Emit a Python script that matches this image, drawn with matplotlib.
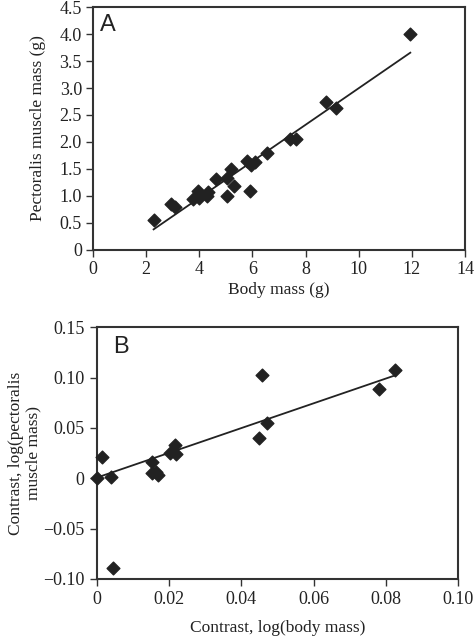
import numpy as np
import matplotlib
matplotlib.use("Agg")
import matplotlib.pyplot as plt

# 패널 A 데이터 (체질량 vs 가슴근육 질량)
body_mass = [2.28, 2.93, 3.09, 3.78, 3.96, 3.99, 4.31, 4.30, 4.64, 5.06, 5.05, 5.21,
             5.29, 5.78, 5.91, 5.94, 6.08, 6.56, 7.40, 7.65, 8.78, 9.13, 11.94]
pect_mass = [0.56, 0.85, 0.80, 0.94, 1.09, 0.96, 1.08, 0.99, 1.32, 1.34, 1.00, 1.49,
             1.18, 1.65, 1.09, 1.57, 1.63, 1.79, 2.06, 2.06, 2.75, 2.63, 4.01]
fit_a = (0.339, -0.393)   # 기울기, 절편

# 패널 B 데이터 (독립 대비)
contrast_body = [0.0, 0.0013, 0.0038, 0.0044, 0.0152, 0.0152, 0.0164, 0.0170,
                 0.0203, 0.0217, 0.0219, 0.0449, 0.0456, 0.0472, 0.0780, 0.0827]
contrast_pect = [0.0, 0.0212, 0.0013, -0.0887, 0.0162, 0.0053, 0.0063, 0.0033,
                 0.0255, 0.0331, 0.0238, 0.0401, 0.1023, 0.0550, 0.0884, 0.1073]
fit_b = (1.228, 0.0007)

plt.rcParams['font.family'] = ['Liberation Serif', 'DejaVu Serif']
spine_color = "#333333"
text_color = "#222222"

fig = plt.figure(figsize=(4.76, 6.44), dpi=100)
ax_a = fig.add_axes([0.1954, 0.612, 0.7816, 0.377])
ax_b = fig.add_axes([0.204, 0.101, 0.758, 0.391])


def style(ax, pad):
    for s in ax.spines.values():
        s.set_color(spine_color)
        s.set_linewidth(1.5)
    ax.tick_params(direction="out", length=5, width=1, color=spine_color,
                   labelsize=13, labelcolor=text_color, pad=pad)


# 패널 A
ax_a.scatter(body_mass, pect_mass, marker="D", s=42, color=text_color, zorder=3)
xa = np.array([min(body_mass), max(body_mass)])
ax_a.plot(xa, fit_a[0] * xa + fit_a[1], color=text_color, lw=1.3)
ax_a.set_xlim(0, 14)
ax_a.set_ylim(0, 4.5)
ax_a.set_xticks(np.arange(0, 15, 2))
ax_a.set_yticks(np.arange(0, 4.51, 0.5))
ax_a.set_yticklabels(["0"] + [f"{v:.1f}" for v in np.arange(0.5, 4.51, 0.5)])
ax_a.set_xlabel("Body mass (g)", fontsize=12.5, color=text_color, labelpad=3)
ax_a.set_ylabel("Pectoralis muscle mass (g)", fontsize=12.5, color=text_color, labelpad=10)
ax_a.text(0.02, 0.97, "A", transform=ax_a.transAxes, fontsize=17,
          family="Liberation Sans", va="top", ha="left", color=text_color)
style(ax_a, 3)

# 패널 B
ax_b.scatter(contrast_body, contrast_pect, marker="D", s=42, color=text_color, zorder=3,
             clip_on=False)
xb = np.array([min(contrast_body), max(contrast_body)])
ax_b.plot(xb, fit_b[0] * xb + fit_b[1], color=text_color, lw=1.3)
ax_b.set_xlim(0, 0.10)
ax_b.set_ylim(-0.10, 0.15)
ax_b.set_xticks([0, 0.02, 0.04, 0.06, 0.08, 0.10])
ax_b.set_xticklabels(["0", "0.02", "0.04", "0.06", "0.08", "0.10"])
ax_b.set_yticks([-0.10, -0.05, 0, 0.05, 0.10, 0.15])
ax_b.set_yticklabels(["\u22120.10", "\u22120.05", "0", "0.05", "0.10", "0.15"])
ax_b.set_xlabel("Contrast, log(body mass)", fontsize=12.5, color=text_color, labelpad=8)
ax_b.set_ylabel("Contrast, log(pectoralis\nmuscle mass)", fontsize=12.5, color=text_color,
                labelpad=1, linespacing=1.15)
ax_b.text(0.045, 0.965, "B", transform=ax_b.transAxes, fontsize=17,
          family="Liberation Sans", va="top", ha="left", color=text_color)
style(ax_b, 4)

fig.savefig("out.png", dpi=100)
